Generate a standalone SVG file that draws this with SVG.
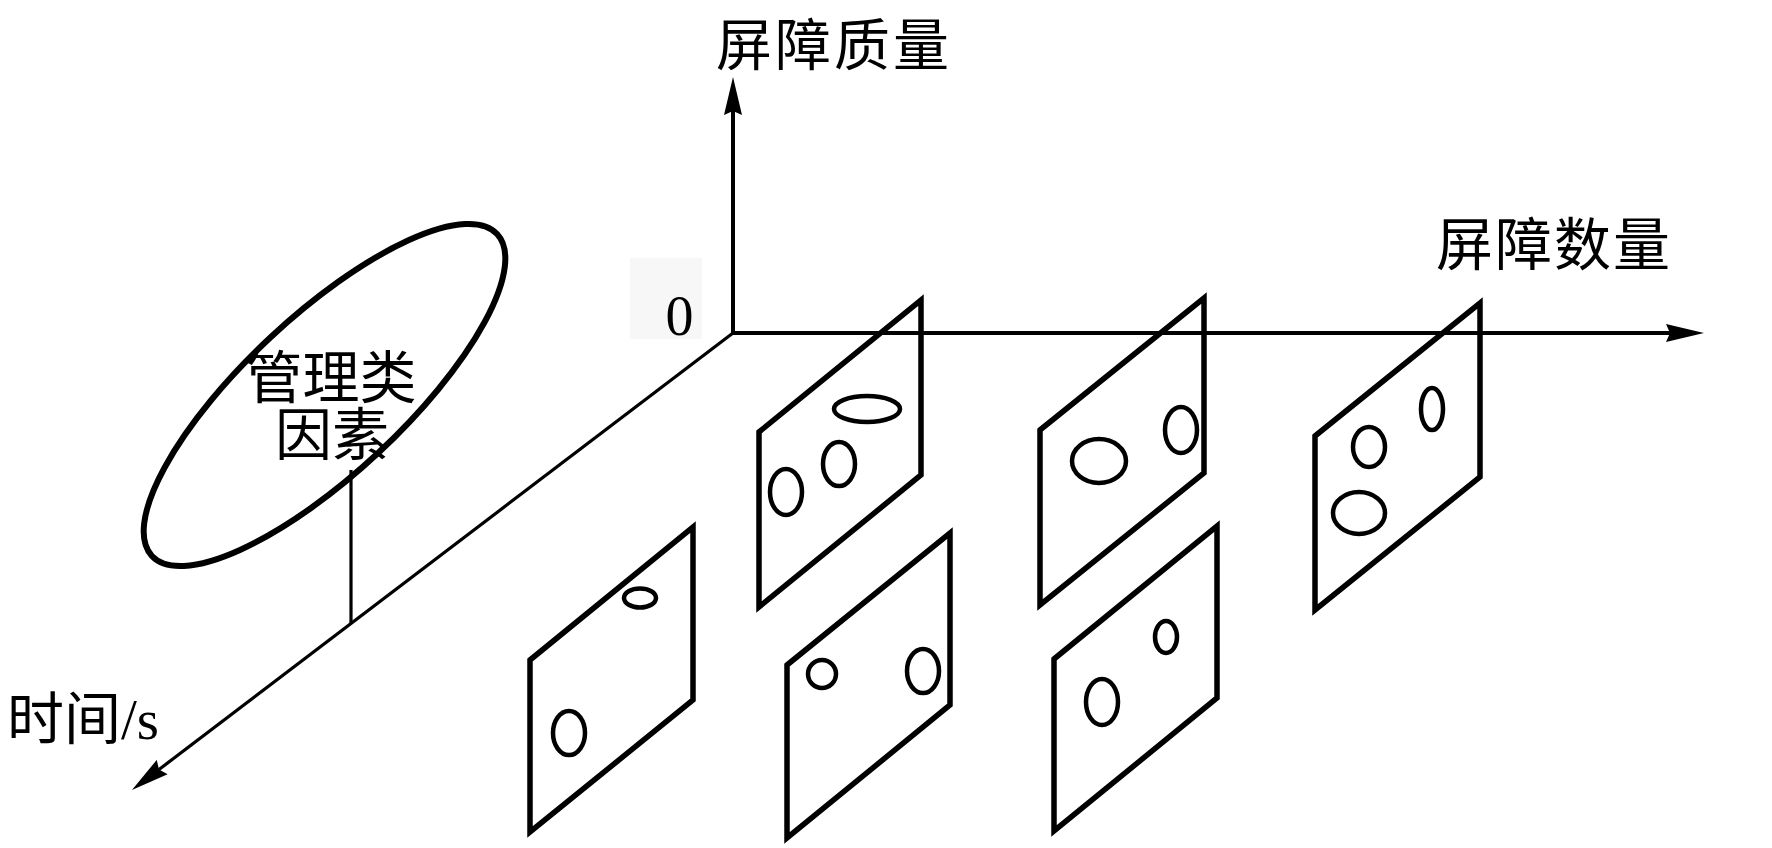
<svg xmlns="http://www.w3.org/2000/svg" width="1772" height="848" viewBox="0 0 1772 848">
<style>
.ax{stroke:#000;fill:none}
.panel{fill:none;stroke:#000;stroke-width:5.5;stroke-linejoin:miter}
.hole{fill:none;stroke:#000;stroke-width:4.5}
.cjk{font-family:"Noto Sans CJK SC","Noto Sans CJK JP",sans-serif;fill:#000}
.lat{font-family:"Liberation Serif",serif;fill:#000}
</style>
<defs>
<marker id="arr" markerUnits="userSpaceOnUse" markerWidth="40" markerHeight="20" refX="4" refY="10" orient="auto">
<path d="M0,1 L38,10 L0,19 L4,10 Z" fill="#000"/>
</marker>
</defs>
<rect width="1772" height="848" fill="#fff"/>
<rect x="630" y="258" width="72" height="81" fill="#f7f7f7"/>
<g id="connectors">
<line class="ax" x1="733" y1="335" x2="733" y2="111" stroke-width="4" marker-end="url(#arr)"/>
<line class="ax" x1="731" y1="333" x2="1670" y2="333" stroke-width="4" marker-end="url(#arr)"/>
<line class="ax" x1="733" y1="333" x2="159" y2="769.5" stroke-width="3.2" marker-end="url(#arr)"/>
<line class="ax" x1="351" y1="470" x2="351" y2="623" stroke-width="3.2"/>
</g>
<g id="labels">
<text class="cjk" x="716" y="65" font-size="56" letter-spacing="3">屏障质量</text>
<text class="cjk" x="1436" y="265" font-size="57" letter-spacing="2">屏障数量</text>
<text class="lat" x="679.5" y="335" font-size="56" text-anchor="middle">0</text>
<text x="7" y="739" font-size="57"><tspan class="cjk">时间</tspan><tspan class="lat">/s</tspan></text>
</g>
<g id="management">
<ellipse cx="324.5" cy="395" rx="236" ry="79" transform="rotate(-43 324.5 395)" fill="none" stroke="#000" stroke-width="6"/>
<text class="cjk" font-size="57" text-anchor="middle"><tspan x="331" y="398">管理类</tspan><tspan x="332" y="455">因素</tspan></text>
</g>
<g id="panel-top-1">
<polygon class="panel" points="759,432 921,300 921,475 759,607"/>
<ellipse class="hole" cx="867" cy="409" rx="33" ry="13"/>
<ellipse class="hole" cx="839" cy="464" rx="16" ry="22"/>
<ellipse class="hole" cx="786" cy="492" rx="16" ry="23"/>
</g>
<g id="panel-top-2">
<polygon class="panel" points="1040,430 1204,298 1204,473 1040,605"/>
<ellipse class="hole" cx="1181" cy="430" rx="16" ry="23"/>
<ellipse class="hole" cx="1099" cy="461" rx="27" ry="22"/>
</g>
<g id="panel-top-3">
<polygon class="panel" points="1315,436 1480,303 1480,477 1315,610"/>
<ellipse class="hole" cx="1432" cy="409" rx="11" ry="21"/>
<ellipse class="hole" cx="1369" cy="447" rx="16" ry="20"/>
<ellipse class="hole" cx="1359" cy="513" rx="26" ry="21"/>
</g>
<g id="panel-bottom-1">
<polygon class="panel" points="530,660 693,527 693,700 530,832"/>
<ellipse class="hole" cx="640" cy="598" rx="16" ry="9.5"/>
<ellipse class="hole" cx="569" cy="733" rx="16" ry="22"/>
</g>
<g id="panel-bottom-2">
<polygon class="panel" points="787,665 950,533 950,705 787,838"/>
<ellipse class="hole" cx="822" cy="674" rx="14" ry="14"/>
<ellipse class="hole" cx="923" cy="671" rx="16" ry="22"/>
</g>
<g id="panel-bottom-3">
<polygon class="panel" points="1054,659 1217,526 1217,698 1054,831"/>
<ellipse class="hole" cx="1166" cy="637" rx="11" ry="16"/>
<ellipse class="hole" cx="1102" cy="702" rx="16" ry="23"/>
</g>
</svg>
